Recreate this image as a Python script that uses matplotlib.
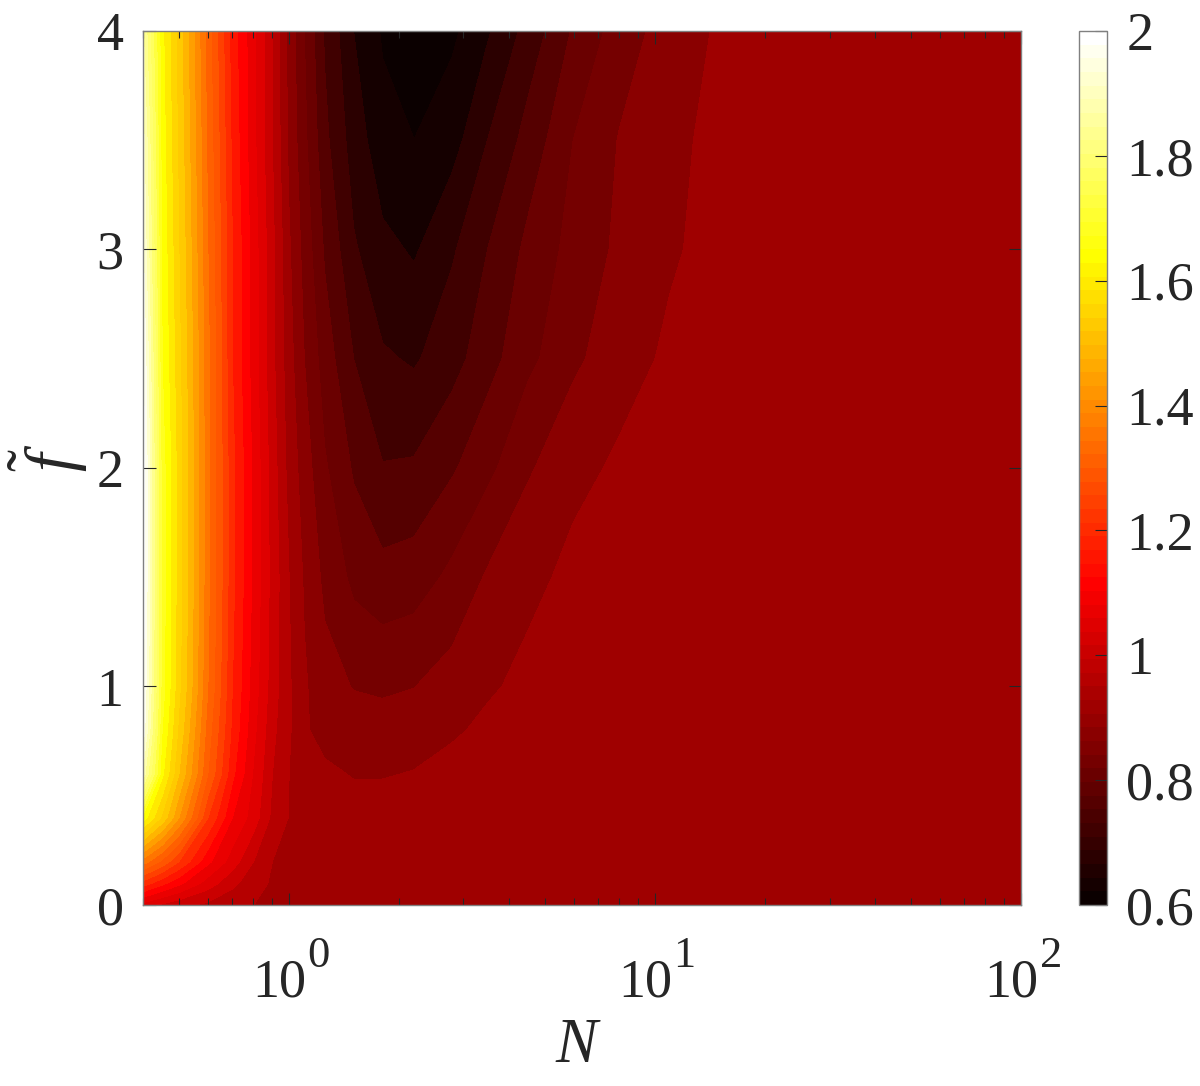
"""Filled contour map of the normalised response over (N, f~)."""

import numpy as np
import matplotlib
matplotlib.use("Agg")
import matplotlib.pyplot as plt
import matplotlib.cm as cm
import matplotlib.ticker as mticker
from matplotlib.colors import ListedColormap, Normalize

plt.rcParams["font.family"] = ["Liberation Serif", "DejaVu Serif"]
plt.rcParams["mathtext.fontset"] = "custom"
plt.rcParams["mathtext.rm"] = "Liberation Serif"
plt.rcParams["mathtext.it"] = "Liberation Serif:italic"

# ── grid nodes ───────────────────────────────────────────────────────────
N_NODES = [0.4, 0.45, 0.5, 0.6, 0.7, 0.8, 0.9, 1.0, 1.1, 1.25, 1.5,
           1.8, 2.2, 2.8, 3.5, 4.5, 6, 8, 11, 15, 25, 100]
F_NODES = [0.0, 0.1, 0.2, 0.4, 0.6, 0.8, 1.0, 1.5, 2.0, 2.5, 3.0, 3.5, 4.0]

# one row of values per f node, columns follow N_NODES
Z_F00 = [1.06, 1.03, 1.01, 0.99, 0.97, 0.96, 0.95, 0.945, 0.945, 0.945, 0.945,
         0.945, 0.945, 0.945, 0.94, 0.94, 0.94, 0.94, 0.94, 0.94, 0.94, 0.94]
Z_F01 = [1.22, 1.17, 1.13, 1.06, 1.01, 0.975, 0.955, 0.95, 0.945, 0.945, 0.945,
         0.945, 0.945, 0.945, 0.94, 0.94, 0.94, 0.94, 0.94, 0.94, 0.94, 0.94]
Z_F02 = [1.38, 1.31, 1.24, 1.13, 1.06, 1.0, 0.96, 0.95, 0.945, 0.945, 0.945,
         0.945, 0.945, 0.945, 0.94, 0.94, 0.94, 0.94, 0.94, 0.94, 0.94, 0.94]
Z_F04 = [1.66, 1.55, 1.44, 1.24, 1.12, 1.06, 0.99, 0.958, 0.95, 0.945, 0.94,
         0.94, 0.94, 0.94, 0.94, 0.94, 0.94, 0.94, 0.94, 0.94, 0.94, 0.94]
Z_F06 = [1.90, 1.65, 1.52, 1.32, 1.17, 1.075, 1.0, 0.96, 0.94, 0.928, 0.917,
         0.917, 0.922, 0.932, 0.938, 0.94, 0.94, 0.94, 0.94, 0.94, 0.94, 0.94]
Z_F08 = [1.98, 1.68, 1.55, 1.34, 1.19, 1.09, 1.01, 0.965, 0.925, 0.905, 0.898,
         0.895, 0.898, 0.915, 0.928, 0.936, 0.94, 0.94, 0.94, 0.94, 0.94, 0.94]
Z_F10 = [2.0, 1.70, 1.57, 1.36, 1.20, 1.10, 1.02, 0.965, 0.925, 0.895, 0.878,
         0.874, 0.879, 0.897, 0.915, 0.93, 0.94, 0.94, 0.94, 0.94, 0.94, 0.94]
Z_F15 = [2.02, 1.70, 1.58, 1.37, 1.21, 1.11, 1.025, 0.96, 0.915, 0.87, 0.83,
         0.813, 0.82, 0.85, 0.885, 0.91, 0.93, 0.938, 0.94, 0.94, 0.94, 0.94]
Z_F20 = [2.02, 1.70, 1.58, 1.37, 1.21, 1.11, 1.02, 0.945, 0.90, 0.845, 0.795,
         0.762, 0.765, 0.795, 0.83, 0.875, 0.91, 0.926, 0.935, 0.94, 0.94, 0.94]
Z_F25 = [2.0, 1.68, 1.57, 1.37, 1.20, 1.10, 1.01, 0.935, 0.88, 0.82, 0.76,
         0.725, 0.715, 0.745, 0.785, 0.83, 0.872, 0.905, 0.927, 0.937, 0.94, 0.94]
Z_F30 = [1.96, 1.67, 1.56, 1.36, 1.20, 1.10, 1.01, 0.925, 0.865, 0.795, 0.725,
         0.69, 0.675, 0.715, 0.76, 0.81, 0.855, 0.888, 0.915, 0.935, 0.94, 0.94]
Z_F35 = [1.93, 1.66, 1.55, 1.35, 1.19, 1.09, 1.0, 0.91, 0.85, 0.77, 0.70,
         0.655, 0.64, 0.665, 0.72, 0.775, 0.84, 0.882, 0.912, 0.93, 0.94, 0.94]
Z_F40 = [1.88, 1.65, 1.54, 1.34, 1.18, 1.09, 1.0, 0.905, 0.84, 0.755, 0.68,
         0.635, 0.615, 0.632, 0.675, 0.735, 0.805, 0.86, 0.90, 0.925, 0.94, 0.94]

CBAR_TICKS = [0.6, 0.8, 1.0, 1.2, 1.4, 1.6, 1.8, 2.0]
Y_TICKS = [0, 1, 2, 3, 4]
XLIM = (0.4, 100)
YLIM = (0, 4)

VMIN, VMAX = 0.6, 2.0
LEVEL_STEP = 0.04
FONT_SIZE = 39
SUP_SIZE = 32
TEXT_COLOR = "#262626"


def matlab_hot(n=64):
    n1 = int(3 * n / 8)
    n2 = n1
    n3 = n - n1 - n2
    r = np.r_[np.arange(1, n1 + 1) / n1, np.ones(n - n1)]
    g = np.r_[np.zeros(n1), np.arange(1, n2 + 1) / n2, np.ones(n3)]
    b = np.r_[np.zeros(n1 + n2), np.arange(1, n3 + 1) / n3]
    return ListedColormap(np.c_[r, g, b])


z = np.array([Z_F00, Z_F01, Z_F02, Z_F04, Z_F06, Z_F08, Z_F10,
              Z_F15, Z_F20, Z_F25, Z_F30, Z_F35, Z_F40])
nn, ff = np.meshgrid(N_NODES, F_NODES)

hot = matlab_hot(64)
norm = Normalize(VMIN, VMAX)
levels = np.round(np.arange(VMIN, 2.1 + 1e-9, LEVEL_STEP), 3)
# each band takes the colour of its lower level (MATLAB style)
band_colors = [hot(min(norm(lv), 0.999)) for lv in levels[:-1]]

fig = plt.figure(figsize=(12, 10.86), dpi=100)
ax = fig.add_axes([0.1192, 0.1667, 0.7316, 0.8048])
cax = fig.add_axes([0.8992, 0.1667, 0.0233, 0.8048])

cs = ax.contourf(nn, ff, z, levels=levels, colors=band_colors)
cs.set_edgecolor("face")
cs.set_linewidth(0.6)

ax.set_xscale("log")
ax.set_xlim(*XLIM)
ax.set_ylim(*YLIM)
ax.set_yticks(Y_TICKS)
ax.xaxis.set_major_locator(mticker.LogLocator(base=10, numticks=10))
ax.xaxis.set_minor_locator(mticker.LogLocator(base=10, subs=np.arange(2, 10), numticks=20))
ax.xaxis.set_major_formatter(mticker.NullFormatter())
ax.xaxis.set_minor_formatter(mticker.NullFormatter())

ax.tick_params(which="both", direction="in", top=True, right=True,
               labelsize=FONT_SIZE, colors=TEXT_COLOR, width=0.8)
ax.tick_params(which="major", length=9)
ax.tick_params(which="minor", length=5)
ax.tick_params(axis="y", pad=14)
for sp in ax.spines.values():
    sp.set_color("#808080")
    sp.set_linewidth(1.0)

# decade labels 10^k, with a large raised exponent as in the original
xtr = ax.get_xaxis_transform()
for tick in ax.get_xticks():
    if not (XLIM[0] <= tick <= XLIM[1]):
        continue
    k = int(round(np.log10(tick)))
    ax.annotate("10", xy=(tick, 0), xycoords=xtr, xytext=(12.5, -66),
                textcoords="offset points", ha="right", va="baseline",
                fontsize=FONT_SIZE, color=TEXT_COLOR)
    ax.annotate(str(k), xy=(tick, 0), xycoords=xtr, xytext=(13.5, -45),
                textcoords="offset points", ha="left", va="baseline",
                fontsize=SUP_SIZE, color=TEXT_COLOR)

fig.text(0.482, 0.022, r"$N$", fontsize=FONT_SIZE + 6, ha="center",
         va="baseline", color=TEXT_COLOR)
fig.text(0.040, 0.578, r"$\tilde{f}$", fontsize=48, rotation=90,
         ha="center", va="center", color=TEXT_COLOR)

sm = cm.ScalarMappable(norm=norm, cmap=hot)
cb = fig.colorbar(sm, cax=cax, ticks=CBAR_TICKS)
cb.ax.set_yticklabels([f"{t:g}" for t in CBAR_TICKS])
cb.ax.tick_params(direction="in", length=9, width=0.8, labelsize=FONT_SIZE,
                  colors=TEXT_COLOR, pad=14)
cb.outline.set_edgecolor("#808080")
cb.outline.set_linewidth(1.0)

fig.savefig("out.png", dpi=100)
